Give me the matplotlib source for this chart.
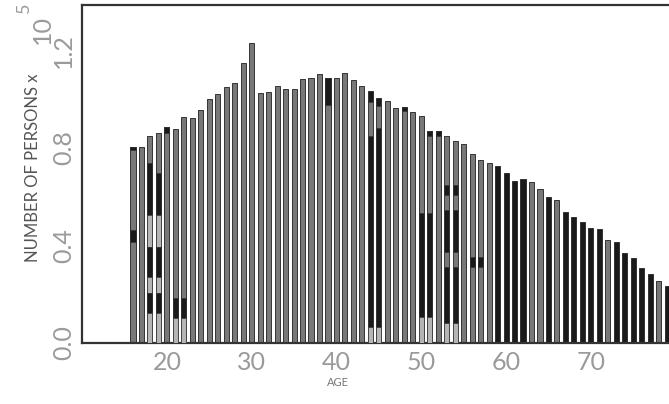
import matplotlib
matplotlib.use("Agg")
import matplotlib.pyplot as plt

# ---------------- data (number of persons, units of 1e5) ----------------
ages = list(range(16, 80))
persons = [
    0.805, 0.805, 0.849, 0.860, 0.884, 0.878, 0.926, 0.922, 0.955, 1.000,   # 16-25
    1.020, 1.048, 1.065, 1.147, 1.231, 1.024, 1.031, 1.052, 1.043, 1.040,   # 26-35
    1.083, 1.088, 1.102, 1.085, 1.085, 1.108, 1.079, 1.054, 1.033, 1.003,   # 36-45
    0.993, 0.962, 0.969, 0.949, 0.929, 0.871, 0.871, 0.847, 0.830, 0.815,   # 46-55
    0.777, 0.750, 0.739, 0.727, 0.696, 0.665, 0.671, 0.662, 0.631, 0.600,   # 56-65
    0.587, 0.539, 0.518, 0.495, 0.473, 0.466, 0.422, 0.413, 0.371, 0.347,   # 66-75
    0.309, 0.283, 0.255, 0.233,                                             # 76-79
]
# shade category of each bar: g = gray, k = black
bar_shade = (
    ["g"] * 28            # 16-43
    + ["k", "k"]          # 44-45
    + ["g"] * 7           # 46-52
    + ["k", "k"]          # 53-54
    + ["g"] * 4           # 55-58
    + ["k"] * 4           # 59-62
    + ["g", "g", "k", "g"]  # 63-66
    + ["k"] * 5           # 67-71
    + ["g"]               # 72
    + ["k"] * 5           # 73-77
    + ["g", "k"]          # 78-79
)
# partial segments inside bars: (age, low, high, shade)  l = light gray
segments = [
    (16, 0.415, 0.464, "k"), (16, 0.790, 0.805, "k"),
    (18, 0.525, 0.737, "k"), (18, 0.395, 0.525, "l"), (18, 0.272, 0.395, "k"),
    (18, 0.204, 0.272, "l"), (18, 0.122, 0.204, "k"), (18, 0.000, 0.122, "l"),
    (19, 0.525, 0.696, "k"), (19, 0.395, 0.525, "l"), (19, 0.272, 0.395, "k"),
    (19, 0.204, 0.272, "l"), (19, 0.122, 0.204, "k"), (19, 0.000, 0.122, "l"),
    (20, 0.862, 0.884, "k"),
    (21, 0.102, 0.183, "k"), (21, 0.000, 0.102, "l"),
    (22, 0.102, 0.183, "k"), (22, 0.000, 0.102, "l"),
    (39, 0.976, 1.085, "k"),
    (44, 0.850, 0.990, "g"), (44, 0.000, 0.067, "l"),
    (45, 0.880, 0.970, "g"), (45, 0.000, 0.067, "l"),
    (48, 0.950, 0.969, "k"),
    (50, 0.108, 0.532, "k"), (50, 0.000, 0.108, "l"),
    (51, 0.108, 0.532, "k"), (51, 0.000, 0.108, "l"), (51, 0.850, 0.871, "k"),
    (52, 0.850, 0.871, "k"),
    (53, 0.648, 0.847, "g"), (53, 0.546, 0.607, "g"), (53, 0.313, 0.374, "g"), (53, 0.000, 0.081, "l"),
    (54, 0.648, 0.830, "g"), (54, 0.546, 0.607, "g"), (54, 0.313, 0.374, "g"), (54, 0.000, 0.081, "l"),
    (56, 0.313, 0.354, "k"), (57, 0.313, 0.354, "k"),
]
xtick_values = [20, 30, 40, 50, 60, 70]
xtick_labels = ["20", "30", "40", "50", "60", "70"]
ytick_values = [0.0, 0.4, 0.8, 1.2]
ytick_labels = ["0.0", "0.4", "0.8", "1.2"]

# ---------------- style ----------------
shade_colors = {"g": "#787878", "k": "#1a1a1a", "l": "#b5b5b5"}
edge = "#333333"
label_font = ["Lato", "DejaVu Sans"]
tick_color = "#9a9a9a"

fig = plt.figure(figsize=(6.69, 4.04), dpi=100)
ax = fig.add_axes([0.1227, 0.151, 1.014, 0.8366])

bw = 0.6
ax.bar(ages, persons, width=bw, color=[shade_colors[s] for s in bar_shade],
       edgecolor=edge, linewidth=0.7, zorder=2)
for a, lo, hi, s in segments:
    ax.bar(a, hi - lo, bottom=lo, width=bw, color=shade_colors[s],
           edgecolor=edge, linewidth=0.5, zorder=3)

ax.set_xlim(10, 90)
ax.set_ylim(0, 1.386)

ax.set_xticks(xtick_values)
ax.set_xticklabels(xtick_labels, family=label_font, fontsize=18, color=tick_color)
ax.set_yticks(ytick_values)
ax.set_yticklabels(ytick_labels, family=label_font, fontsize=18, color=tick_color,
                   rotation=90, va="center")
ax.tick_params(axis="x", length=0, pad=6)
ax.tick_params(axis="y", length=0, pad=5)

for side in ["left", "top", "bottom"]:
    ax.spines[side].set_color("#333333")
    ax.spines[side].set_linewidth(1.6)
ax.spines["right"].set_visible(False)

# y-axis title
fig.text(33 / 669, 1 - 168 / 404, "NUMBER OF PERSONS x", rotation=90,
         ha="center", va="center", fontsize=12, color="#555555", family=label_font)
fig.text(42 / 669, 1 - 30 / 404, "10", rotation=90, ha="center", va="center",
         fontsize=18, color=tick_color, family=label_font)
fig.text(24 / 669, 1 - 8 / 404, "5", rotation=90, ha="center", va="center",
         fontsize=13, color=tick_color, family=label_font)
# x-axis title
fig.text(338 / 669, 1 - 382 / 404, "AGE", ha="center", va="center",
         fontsize=8, color="#777777", family=label_font)

fig.savefig("out.png", dpi=100)
